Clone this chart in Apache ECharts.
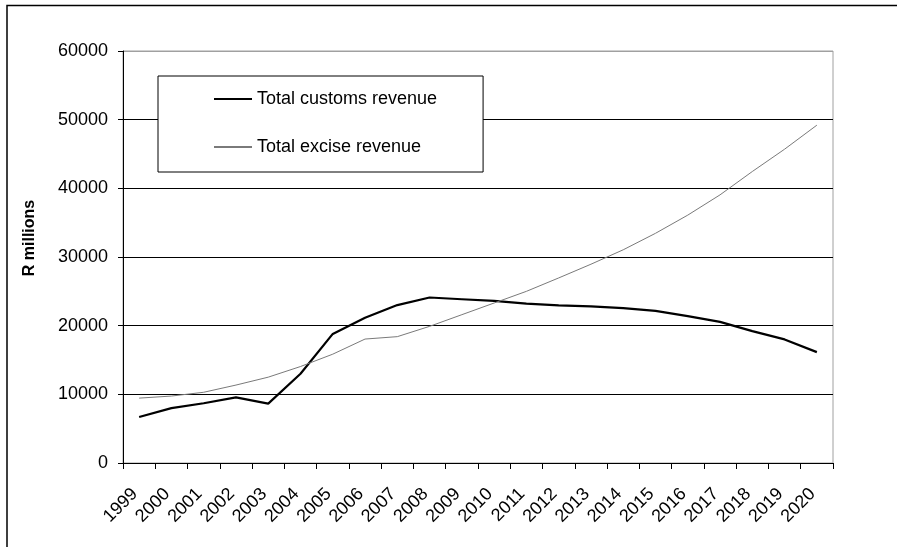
<!DOCTYPE html>
<html>
<head>
<meta charset="utf-8">
<script src="https://cdn.jsdelivr.net/npm/echarts@6/dist/echarts.min.js"></script>
<style>
html,body{margin:0;padding:0;background:#fff;}
#main{width:897px;height:547px;}
</style>
</head>
<body>
<div id="main"></div>
<script>
var years = ["1999","2000","2001","2002","2003","2004","2005","2006","2007","2008","2009",
	"2010","2011","2012","2013","2014","2015","2016","2017","2018","2019","2020"];
var customsRevenue = [6700,8000,8700,9550,8650,13000,18800,21150,23000,24100,23850,
	23600,23200,22950,22800,22550,22150,21400,20550,19200,18000,16150];
var exciseRevenue = [9450,9750,10300,11350,12500,14050,15850,18050,18400,19900,21600,
	23300,25000,26950,28950,31050,33450,36100,39050,42450,45700,49200];
var yTicks = [0,10000,20000,30000,40000,50000,60000];

var fontName = "Liberation Sans, Arial, sans-serif";

function $each(arr, fn){
	for(var i=0;i<arr.length;i++){ fn(i, arr[i]); }
}

var createChart = function(id){
	var chart = echarts.init(document.getElementById(id), null, {renderer: "canvas"});
	var splitColors = [];
	$each(yTicks, function(i){
		splitColors.push(i == yTicks.length-1 ? "#a0a0a0" : "#000");
	});
	var options = {
		backgroundColor: "#fff",
		animation: false,
		textStyle: {fontFamily: fontName},
		graphic: [{
			type: "rect",
			shape: {x: 7, y: 5.5, width: 1200, height: 1200},
			style: {fill: null, stroke: "#000", lineWidth: 1.5},
			silent: true
		}],
		grid: {
			left: 123, right: 64, top: 51, bottom: 84,
			show: true, borderColor: "#a0a0a0", borderWidth: 1
		},
		legend: {
			orient: "vertical",
			left: 158, top: 76,
			padding: [14, 46, 16, 55],
			itemGap: 30,
			itemWidth: 38, itemHeight: 14,
			borderColor: "#000", borderWidth: 1,
			backgroundColor: "#fff",
			itemStyle: {opacity: 0},
			textStyle: {fontSize: 18, color: "#000", fontFamily: fontName},
			data: ["Total customs revenue", "Total excise revenue"]
		},
		xAxis: {
			type: "category",
			data: years,
			boundaryGap: true,
			axisLine: {lineStyle: {color: "#000", width: 1}},
			axisTick: {show: true, length: 6, lineStyle: {color: "#000"}},
			axisLabel: {rotate: 45, margin: 24, fontSize: 18, color: "#000", interval: 0, padding: [0, 6, 13, 0]}
		},
		yAxis: {
			type: "value",
			min: 0, max: 60000, interval: 10000,
			name: "R millions",
			nameLocation: "middle",
			nameGap: 85,
			nameTextStyle: {fontSize: 16, fontWeight: "bold", color: "#000", padding: [0,0,0,38]},
			axisLine: {show: true, lineStyle: {color: "#000", width: 1}},
			axisTick: {show: true, length: 5, lineStyle: {color: "#000"}},
			axisLabel: {
				margin: 15, fontSize: 18, color: "#000",
				formatter: function(v){ return String(v); }
			},
			splitLine: {show: true, lineStyle: {color: splitColors, width: 1}}
		},
		series: [{
			name: "Total customs revenue",
			type: "line",
			data: customsRevenue,
			symbol: "none",
			lineStyle: {color: "#000", width: 2.2},
			itemStyle: {color: "#000"}
		},{
			name: "Total excise revenue",
			type: "line",
			data: exciseRevenue,
			symbol: "none",
			lineStyle: {color: "#7a7a7a", width: 1},
			itemStyle: {color: "#7a7a7a"}
		}]
	};
	chart.setOption(options, true);
	return chart;
};

createChart("main");
</script>
</body>
</html>
